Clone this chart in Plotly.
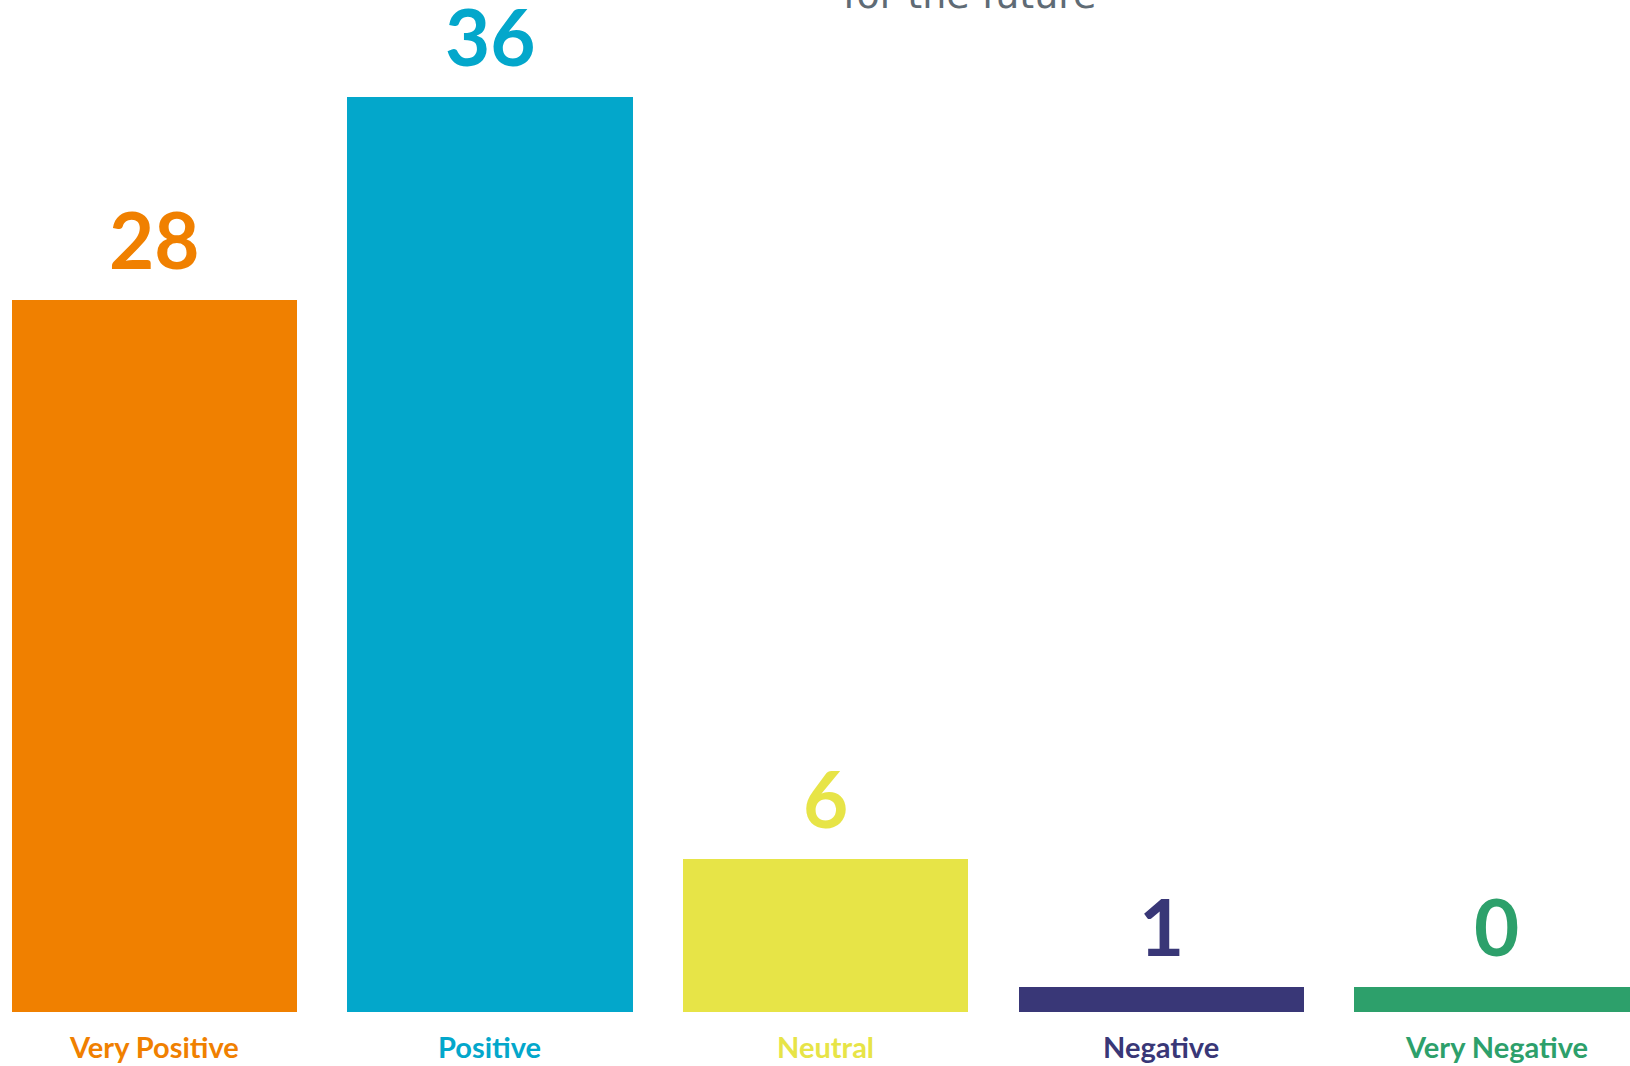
import plotly.graph_objects as go

# Survey responses: outlook for the future
categories = ["Very Positive", "Positive", "Neutral", "Negative", "Very Negative"]
counts = [28, 36, 6, 1, 0]
colors = ["#F08000", "#03A7CB", "#E7E447", "#393777", "#2DA06B"]
subtitle = "for the future"

# Smallest drawn bar height (in response units) so empty categories stay visible
MIN_BAR = 1

x_pos = list(range(len(categories)))
drawn = [max(c, MIN_BAR) for c in counts]

fig = go.Figure(
    go.Bar(
        x=x_pos,
        y=drawn,
        width=0.85,
        marker=dict(color=colors, line=dict(width=0)),
        hoverinfo="skip",
    )
)

annotations = []
for i, (cat, val, h, col) in enumerate(zip(categories, counts, drawn, colors)):
    # value above each bar
    annotations.append(dict(
        x=i, y=h, xref="x", yref="y",
        text=f"<b>{val}</b>", showarrow=False,
        yanchor="bottom", yshift=12,
        font=dict(family="Lato", size=78, color=col),
    ))
    # category name under the axis
    annotations.append(dict(
        x=i, y=0, xref="x", yref="paper",
        text=f"<b>{cat}</b>", showarrow=False,
        yanchor="top", yshift=-15,
        font=dict(family="Lato", size=29, color=col),
    ))

# last line of the heading, partly above the page edge
annotations.append(dict(
    x=969 / 1630, y=1, xref="paper", yref="paper",
    text=subtitle, showarrow=False,
    xanchor="center", yanchor="bottom", yshift=-19,
    font=dict(family="DejaVu Sans", size=38, color="#5F6B75"),
))

fig.update_layout(
    width=1630,
    height=1066,
    margin=dict(l=0, r=0, t=0, b=54),
    paper_bgcolor="white",
    plot_bgcolor="white",
    showlegend=False,
    bargap=0,
    xaxis=dict(
        range=[-0.46, 4.397],
        showticklabels=False,
        showgrid=False,
        zeroline=False,
        showline=False,
        fixedrange=True,
    ),
    yaxis=dict(
        range=[0, 39.8],
        visible=False,
        fixedrange=True,
    ),
    annotations=annotations,
)

fig.write_html("out.html", config={"displayModeBar": False})
